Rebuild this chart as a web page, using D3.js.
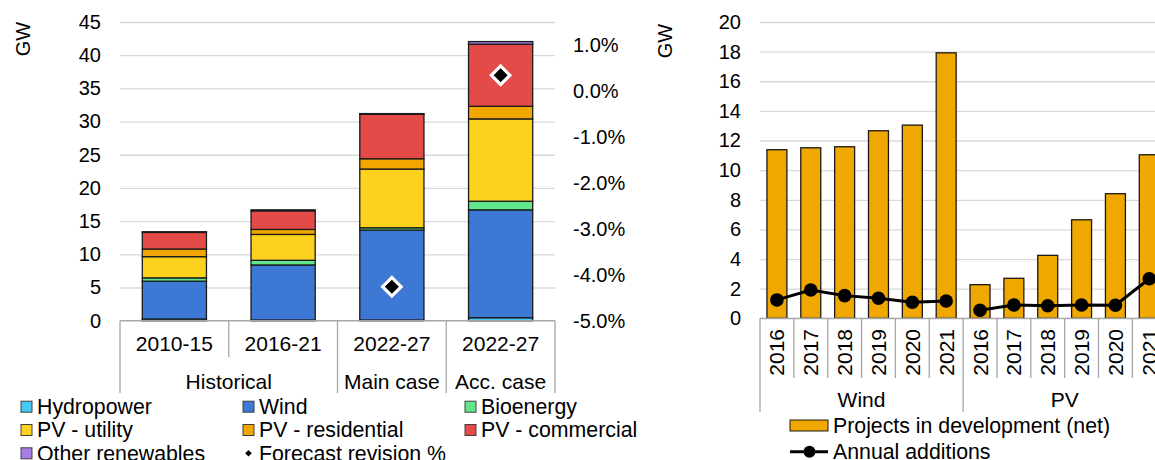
<!DOCTYPE html>
<html>
<head>
<meta charset="utf-8">
<script src="https://cdn.jsdelivr.net/npm/d3@7"></script>
<style>
  body { margin: 0; background: #fff; }
  svg { display: block; font-family: "Liberation Sans", Arial, sans-serif; }
</style>
</head>
<body>
<div id="vizDiv"></div>
<script>
// ---- left chart data (GW, and forecast revision %)
var periods = ["2010-15", "2016-21", "2022-27", "2022-27"]
var periodGroups = ["Historical", "Historical", "Main case", "Acc. case"]
var hydropower = [0.25, 0.1, 0.1, 0.45]
var wind = [5.7, 8.3, 13.55, 16.25]
var bioenergy = [0.5, 0.7, 0.35, 1.3]
var pvUtility = [3.2, 3.9, 8.85, 12.4]
var pvResidential = [1.15, 0.75, 1.55, 1.9]
var pvCommercial = [2.5, 2.8, 6.7, 9.35]
var otherRenewables = [0.1, 0.15, 0.1, 0.4]
var forecastRevision = [null, null, -4.26, 0.34]
var leftTicks = [0, 5, 10, 15, 20, 25, 30, 35, 40, 45]
var revisionTicks = [-5, -4, -3, -2, -1, 0, 1]

// ---- right chart data (GW)
var years = ["2016", "2017", "2018", "2019", "2020", "2021", "2016", "2017", "2018", "2019", "2020", "2021"]
var techs = ["Wind", "Wind", "Wind", "Wind", "Wind", "Wind", "PV", "PV", "PV", "PV", "PV", "PV"]
var projectsInDev = [11.38, 11.51, 11.58, 12.66, 13.04, 17.92, 2.27, 2.70, 4.25, 6.65, 8.41, 11.04]
var annualAdditions = [1.24, 1.91, 1.53, 1.35, 1.08, 1.17, 0.54, 0.90, 0.85, 0.90, 0.88, 2.67]
var rightTicks = [0, 2, 4, 6, 8, 10, 12, 14, 16, 18, 20]

var series = [
  {name: "Hydropower", values: hydropower, color: "#45c9f2"},
  {name: "Wind", values: wind, color: "#3c78d4"},
  {name: "Bioenergy", values: bioenergy, color: "#62e68c"},
  {name: "PV - utility", values: pvUtility, color: "#fcd21f"},
  {name: "PV - residential", values: pvResidential, color: "#f2a600"},
  {name: "PV - commercial", values: pvCommercial, color: "#e44a47"},
  {name: "Other renewables", values: otherRenewables, color: "#a47de6"}
]

var width = 1155, height = 460
var gridColor = "#d9d9d9", axisColor = "#a6a6a6"

var svg = d3.select("#vizDiv").append("svg")
  .attr("width", width)
  .attr("height", height)

// ================= LEFT CHART =================
var idx = d3.range(periods.length)
var x = d3.scaleBand().domain(idx).range([120, 555]).paddingInner(0.41).paddingOuter(0.205)
var y = d3.scaleLinear().domain([0, 45]).range([320.7, 22])
var yRev = d3.scaleLinear().domain([-5, 1.5]).range([320.7, 22])

// gridlines + left tick labels
var gl = svg.append("g").attr("transform", "translate(120,0)")
  .call(d3.axisLeft(y).tickValues(leftTicks).tickSize(-435).tickPadding(19))
gl.select(".domain").remove()
gl.selectAll(".tick line").attr("stroke", gridColor).attr("stroke-width", 1.3)
gl.selectAll(".tick text").attr("fill", "#000").style("font-size", "20px")

// right tick labels (forecast revision)
var gr = svg.append("g").attr("transform", "translate(555,0)")
  .call(d3.axisRight(yRev).tickValues(revisionTicks).tickSize(0).tickPadding(18)
    .tickFormat(function(d) { return d.toFixed(1) + "%" }))
gr.select(".domain").remove()
gr.selectAll(".tick text").attr("fill", "#000").style("font-size", "20px")

// stacked bars
var stackRows = idx.map(function(i) {
  var row = {i: i}
  series.forEach(function(s) { row[s.name] = s.values[i] })
  return row
})
var stacked = d3.stack().keys(series.map(function(s) { return s.name }))(stackRows)

stacked.forEach(function(layer, k) {
  svg.append("g").selectAll("rect")
    .data(layer)
    .join("rect")
    .attr("x", function(d) { return x(d.data.i) })
    .attr("width", x.bandwidth())
    .attr("y", function(d) { return y(d[1]) })
    .attr("height", function(d) { return y(d[0]) - y(d[1]) })
    .attr("fill", series[k].color)
    .attr("stroke", "#1a1a1a")
    .attr("stroke-width", 1.3)
})

// forecast revision diamonds
svg.append("g").selectAll("path")
  .data(idx.filter(function(i) { return forecastRevision[i] !== null }))
  .join("path")
  .attr("d", d3.symbol(d3.symbolSquare, 172)())
  .attr("transform", function(i) {
    return "translate(" + (x(i) + x.bandwidth() / 2) + "," + yRev(forecastRevision[i]) + ") rotate(45)"
  })
  .attr("fill", "#000")
  .attr("stroke", "#fff")
  .attr("stroke-width", 3.2)

// category axis (two levels)
var step = x.step()
var edges = idx.map(function(i) { return x(i) - x.paddingInner() * step / 2 })
edges.push(555)
var axisG = svg.append("g").attr("stroke", axisColor).attr("stroke-width", 1.3)
axisG.append("line").attr("x1", 120).attr("x2", 555).attr("y1", 320.7).attr("y2", 320.7)
edges.forEach(function(e, k) {
  var full = (k === 0 || k === edges.length - 1 || periodGroups[k] !== periodGroups[k - 1])
  axisG.append("line").attr("x1", e).attr("x2", e)
    .attr("y1", 320.7).attr("y2", full ? 393 : 357)
})
svg.append("g").selectAll("text")
  .data(idx)
  .join("text")
  .attr("x", function(i) { return x(i) + x.bandwidth() / 2 })
  .attr("y", 351)
  .attr("text-anchor", "middle")
  .style("font-size", "21px")
  .text(function(i) { return periods[i] })

var groupNames = Array.from(new Set(periodGroups))
svg.append("g").selectAll("text")
  .data(groupNames)
  .join("text")
  .attr("x", function(g) {
    var ids = idx.filter(function(i) { return periodGroups[i] === g })
    return (edges[ids[0]] + edges[ids[ids.length - 1] + 1]) / 2
  })
  .attr("y", 389)
  .attr("text-anchor", "middle")
  .style("font-size", "21px")
  .text(function(g) { return g })

svg.append("text")
  .attr("transform", "translate(30,39) rotate(-90)")
  .attr("text-anchor", "middle")
  .style("font-size", "20px")
  .text("GW")

// left legend
var legendCols = [21, 243, 465]
var legendRows = [406.7, 430, 453.3]
var legendItems = series.concat([{name: "Forecast revision %", diamond: true}])
legendItems.forEach(function(item, k) {
  var lx = legendCols[k % 3], ly = legendRows[Math.floor(k / 3)]
  if (item.diamond) {
    svg.append("path")
      .attr("d", d3.symbol(d3.symbolSquare, 22)())
      .attr("transform", "translate(" + (lx + 5.5) + "," + ly + ") rotate(45)")
      .attr("fill", "#000")
  } else {
    svg.append("rect")
      .attr("x", lx).attr("y", ly - 5.5)
      .attr("width", 11).attr("height", 11)
      .attr("fill", item.color)
      .attr("stroke", "#404040").attr("stroke-width", 1)
  }
  svg.append("text")
    .attr("x", lx + 16).attr("y", ly)
    .attr("dy", "0.35em")
    .style("font-size", "21.3px")
    .text(item.name)
})

// ================= RIGHT CHART =================
var idx2 = d3.range(years.length)
var x2 = d3.scaleBand().domain(idx2).range([760, 760 + 12 * 33.85]).paddingInner(0.41).paddingOuter(0.205)
var y2 = d3.scaleLinear().domain([0, 20]).range([318.3, 22])

var gl2 = svg.append("g").attr("transform", "translate(760,0)")
  .call(d3.axisLeft(y2).tickValues(rightTicks).tickSize(-420).tickPadding(19))
gl2.select(".domain").remove()
gl2.selectAll(".tick line").attr("stroke", gridColor).attr("stroke-width", 1.3)
gl2.selectAll(".tick text").attr("fill", "#000").style("font-size", "20px")

svg.append("g").selectAll("rect")
  .data(idx2)
  .join("rect")
  .attr("x", function(i) { return x2(i) })
  .attr("width", x2.bandwidth())
  .attr("y", function(i) { return y2(projectsInDev[i]) })
  .attr("height", function(i) { return y2(0) - y2(projectsInDev[i]) })
  .attr("fill", "#f0a800")
  .attr("stroke", "#1a1a1a")
  .attr("stroke-width", 1.3)

var techNames = Array.from(new Set(techs))
var line = d3.line()
  .x(function(i) { return x2(i) + x2.bandwidth() / 2 })
  .y(function(i) { return y2(annualAdditions[i]) })
techNames.forEach(function(t) {
  var ids = idx2.filter(function(i) { return techs[i] === t })
  svg.append("path")
    .attr("d", line(ids))
    .attr("fill", "none")
    .attr("stroke", "#000")
    .attr("stroke-width", 3)
  svg.append("g").selectAll("circle")
    .data(ids)
    .join("circle")
    .attr("cx", function(i) { return x2(i) + x2.bandwidth() / 2 })
    .attr("cy", function(i) { return y2(annualAdditions[i]) })
    .attr("r", 6.8)
    .attr("fill", "#000")
})

// category axis right
var step2 = x2.step()
var edges2 = idx2.map(function(i) { return x2(i) - x2.paddingInner() * step2 / 2 })
edges2.push(760 + 12 * 33.85)
var axisG2 = svg.append("g").attr("stroke", axisColor).attr("stroke-width", 1.3)
axisG2.append("line").attr("x1", 760).attr("x2", edges2[12]).attr("y1", 318.3).attr("y2", 318.3)
edges2.forEach(function(e, k) {
  var full = (k === 0 || k === edges2.length - 1 || techs[k] !== techs[k - 1])
  axisG2.append("line").attr("x1", e).attr("x2", e)
    .attr("y1", 318.3).attr("y2", full ? 412 : 378)
})
svg.append("g").selectAll("text")
  .data(idx2)
  .join("text")
  .attr("transform", function(i) {
    return "translate(" + (x2(i) + x2.bandwidth() / 2) + ",329) rotate(-90)"
  })
  .attr("text-anchor", "end")
  .attr("dy", "0.36em")
  .style("font-size", "21px")
  .text(function(i) { return years[i] })

svg.append("g").selectAll("text")
  .data(techNames)
  .join("text")
  .attr("x", function(t) {
    var ids = idx2.filter(function(i) { return techs[i] === t })
    return (edges2[ids[0]] + edges2[ids[ids.length - 1] + 1]) / 2
  })
  .attr("y", 406.5)
  .attr("text-anchor", "middle")
  .style("font-size", "21px")
  .text(function(t) { return t })

svg.append("text")
  .attr("transform", "translate(672,41) rotate(-90)")
  .attr("text-anchor", "middle")
  .style("font-size", "20px")
  .text("GW")

// right legend
svg.append("rect")
  .attr("x", 790).attr("y", 420)
  .attr("width", 38).attr("height", 11)
  .attr("fill", "#f0a800")
  .attr("stroke", "#1a1a1a").attr("stroke-width", 1)
svg.append("text")
  .attr("x", 833).attr("y", 425.5).attr("dy", "0.35em")
  .style("font-size", "21.3px")
  .text("Projects in development (net)")
svg.append("line")
  .attr("x1", 790).attr("x2", 828).attr("y1", 451.7).attr("y2", 451.7)
  .attr("stroke", "#000").attr("stroke-width", 3)
svg.append("circle")
  .attr("cx", 809.5).attr("cy", 451.7).attr("r", 6)
  .attr("fill", "#000")
svg.append("text")
  .attr("x", 833).attr("y", 451.7).attr("dy", "0.35em")
  .style("font-size", "21.3px")
  .text("Annual additions")
</script>
</body>
</html>
